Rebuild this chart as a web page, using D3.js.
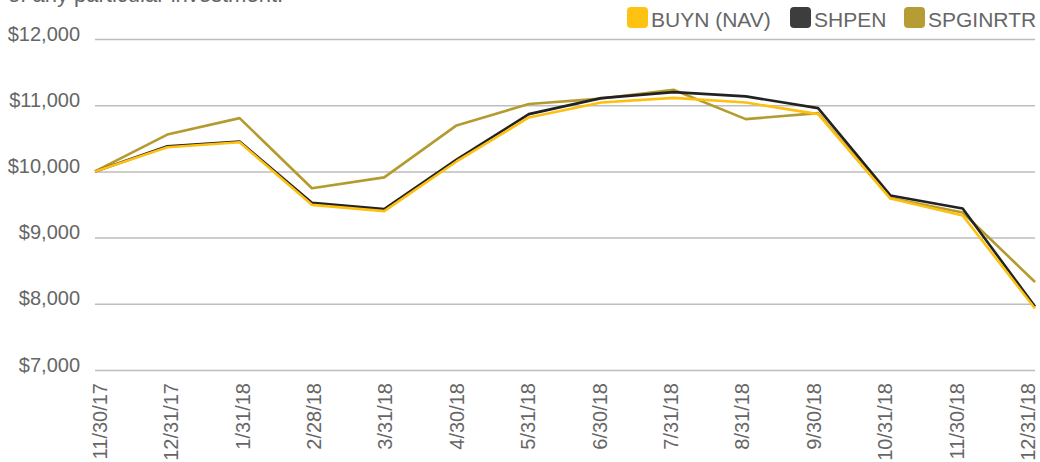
<!DOCTYPE html>
<html>
<head>
<meta charset="utf-8">
<script src="https://cdn.jsdelivr.net/npm/d3@7"></script>
<style>
  body { margin: 0; background: #fff; }
  svg { display: block; font-family: "Liberation Sans", Arial, sans-serif; }
  .tick text, .lbl { fill: #666; }
</style>
</head>
<body>
<svg id="chart" width="1040" height="462"></svg>
<script>
// dates on the x axis
const dates = ["11/30/17","12/31/17","1/31/18","2/28/18","3/31/18","4/30/18","5/31/18",
               "6/30/18","7/31/18","8/31/18","9/30/18","10/31/18","11/30/18","12/31/18"]
// growth of $10,000
const buyn     = [10000,10365,10440,9495,9400,10150,10815,11040,11110,11040,10865,9590,9335,7930]
const shpen    = [10000,10380,10452,9525,9430,10180,10865,11107,11198,11133,10956,9637,9440,7960]
const spginrtr = [10000,10556,10805,9745,9910,10695,11017,11100,11234,10790,10880,9597,9380,8330]
const yTicks   = [7000,8000,9000,10000,11000,12000]

const series = [
    {name:"SPGINRTR",   values:spginrtr, c:"#b49b2f", key:"#b59d33"},
    {name:"SHPEN",      values:shpen,    c:"#222222", key:"#3d3d3d"},
    {name:"BUYN (NAV)", values:buyn,     c:"#fdc010", key:"#fec312"}
]

const svg = d3.select("#chart")

const x = d3.scalePoint().domain(dates).range([95, 1035])
// category labels sit on a slightly narrower span than the lines
const xLab = d3.scalePoint().domain(dates).range([96.5, 1024.5])
const y = d3.scaleLinear().domain([7000, 12000]).range([370, 39])

// cut-off disclaimer line at the very top
svg.append("text").attr("class","lbl")
    .attr("x", 8).attr("y", 2)
    .attr("font-size", 22)
    .text("of any particular investment.")

// gridlines + y labels
const yAxis = svg.append("g")
    .attr("transform", "translate(95,0)")
    .call(d3.axisLeft(y).tickValues(yTicks).tickSize(-940).tickPadding(15)
        .tickFormat(d => "$" + d3.format(",")(d)))
yAxis.select(".domain").remove()
yAxis.selectAll(".tick line").attr("stroke", "#bdbdbd").attr("stroke-width", 1.5)
yAxis.selectAll(".tick text").attr("font-size", 20).attr("dy", "0.05em")

// x labels, rotated
svg.append("g").selectAll("text")
    .data(dates)
    .join("text")
    .attr("class","lbl")
    .attr("transform", d => `translate(${xLab(d)},383) rotate(-90)`)
    .attr("text-anchor", "end")
    .attr("dy", "0.52em")
    .attr("font-size", 20)
    .text(d => d)

// lines
const line = d3.line().x((d,i) => x(dates[i])).y(d => y(d))
svg.append("g").selectAll("path")
    .data(series)
    .join("path")
    .attr("d", d => line(d.values))
    .attr("fill", "none")
    .attr("stroke", d => d.c)
    .attr("stroke-width", 2.6)
    .attr("stroke-linejoin", "round")

// legend
const legendX = {"BUYN (NAV)":627, "SHPEN":790, "SPGINRTR":904}
const leg = svg.append("g").selectAll("g")
    .data(series.slice().reverse())
    .join("g")
    .attr("transform", d => `translate(${legendX[d.name]},7)`)
leg.append("rect").attr("width", 21).attr("height", 21).attr("rx", 4)
    .attr("fill", d => d.key)
leg.append("text").attr("class","lbl")
    .attr("x", 24).attr("y", 20)
    .attr("font-size", 21)
    .text(d => d.name)
</script>
</body>
</html>
